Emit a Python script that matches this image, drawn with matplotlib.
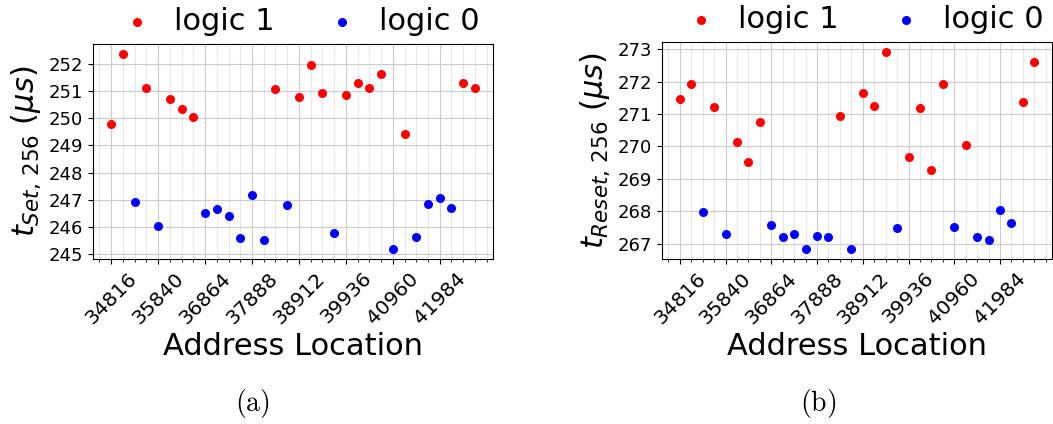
import matplotlib
matplotlib.use("Agg")
import matplotlib.pyplot as plt
from matplotlib.ticker import MultipleLocator
import numpy as np

# Address locations (step of 256)
addresses = np.arange(34816, 34816 + 32 * 256, 256)

# Stored logic value per address (1 = logic 1, 0 = logic 0)
logic_set = [1, 1, 0, 1, 0, 1, 1, 1, 0, 0, 0, 0, 0, 0, 1, 0,
             1, 1, 1, 0, 1, 1, 1, 1, 0, 1, 0, 0, 0, 0, 1, 1]
logic_reset = [1, 1, 0, 1, 0, 1, 1, 1, 0, 0, 0, 0, 0, 0, 1, 0,
               1, 1, 1, 0, 1, 1, 1, 1, 0, 1, 0, 0, 0, 0, 1, 1]

# t_Set,256 in microseconds
t_set = [249.78, 252.39, 246.92, 251.13, 246.02, 250.73, 250.34, 250.05,
         246.52, 246.66, 246.38, 245.58, 247.16, 245.52, 251.08, 246.80,
         250.79, 251.96, 250.95, 245.75, 250.85, 251.31, 251.12, 251.64,
         245.16, 249.41, 245.62, 246.84, 247.06, 246.69, 251.32, 251.11]

# t_Reset,256 in microseconds
t_reset = [271.48, 271.94, 267.97, 271.23, 267.31, 270.13, 269.51, 270.74,
           267.59, 267.22, 267.29, 266.84, 267.24, 267.20, 270.93, 266.83,
           271.64, 271.25, 272.92, 267.47, 269.68, 271.19, 269.27, 271.94,
           267.52, 270.03, 267.21, 267.12, 268.04, 267.64, 271.36, 272.61]

xtick_labels = [34816, 35840, 36864, 37888, 38912, 39936, 40960, 41984]

fig = plt.figure(figsize=(10.53, 4.24), dpi=100)
ax_a = fig.add_axes([0.0883, 0.389, 0.380, 0.507])
ax_b = fig.add_axes([0.6287, 0.389, 0.3704, 0.512])


def draw(ax, values, logic, ylabel):
    values = np.asarray(values)
    logic = np.asarray(logic)
    ax.scatter(addresses[logic == 1], values[logic == 1], s=30,
               color="red", label="logic 1", zorder=3)
    ax.scatter(addresses[logic == 0], values[logic == 0], s=30,
               color="blue", label="logic 0", zorder=3)
    ax.set_xticks(xtick_labels)
    ax.set_xticklabels([str(v) for v in xtick_labels], rotation=45)
    ax.xaxis.set_minor_locator(MultipleLocator(256))
    ax.yaxis.set_major_locator(MultipleLocator(1))
    ax.tick_params(axis="y", which="major", labelsize=13)
    ax.tick_params(axis="x", which="major", labelsize=14.5)
    ax.grid(True, which="major", color="#cccccc", linewidth=0.8)
    ax.grid(True, which="minor", axis="x", color="#e8e8e8", linewidth=0.8)
    ax.set_axisbelow(True)
    ax.set_xlabel("Address Location", fontsize=22, labelpad=3)
    ax.set_ylabel(ylabel, fontsize=22)
    ax.legend(loc="center", bbox_to_anchor=(0.5, 1.105), ncol=2,
              frameon=False, fontsize=22, handletextpad=0.2,
              columnspacing=1.2, scatterpoints=1, borderaxespad=0)


draw(ax_a, t_set, logic_set, r"$t_{Set,\,256}\ (\mu s)$")
draw(ax_b, t_reset, logic_reset, r"$t_{Reset,\,256}\ (\mu s)$")

fig.text(252 / 1053, 1 - 403 / 424, r"$\mathrm{(a)}$", math_fontfamily="cm",
         fontsize=20, ha="center", va="center")
fig.text(818 / 1053, 1 - 403 / 424, r"$\mathrm{(b)}$", math_fontfamily="cm",
         fontsize=20, ha="center", va="center")

fig.savefig("out.png", dpi=100)
